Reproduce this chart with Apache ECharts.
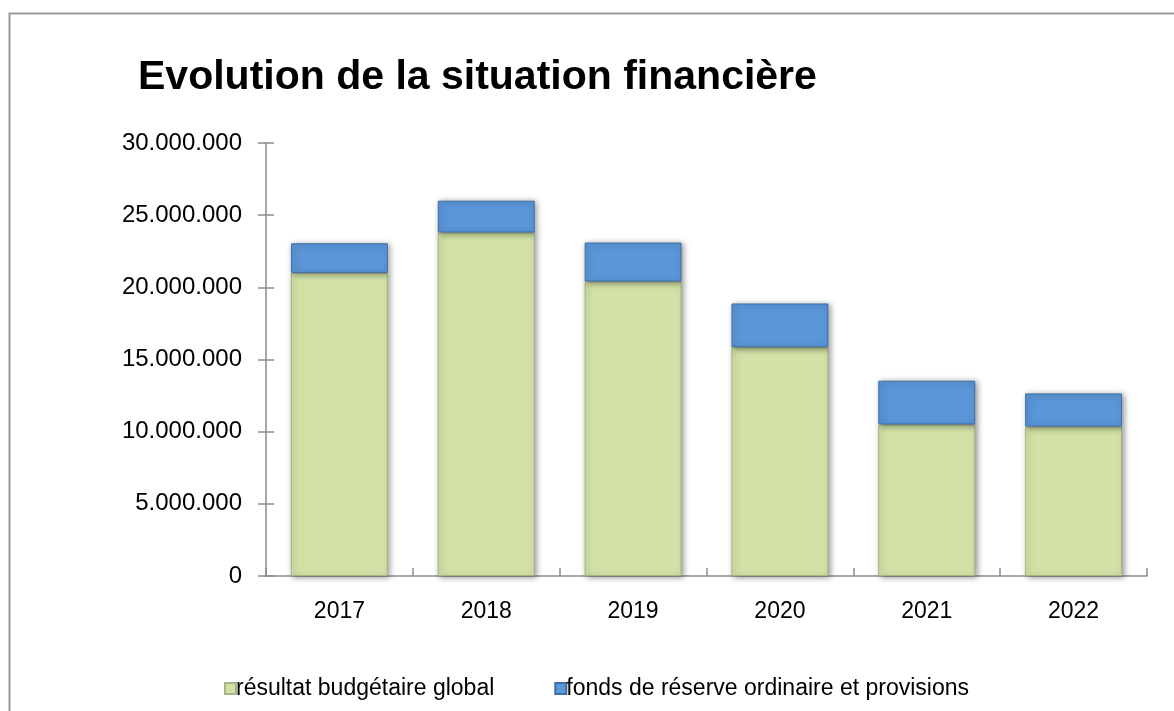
<!DOCTYPE html>
<html>
<head>
<meta charset="utf-8">
<title>Evolution de la situation financière</title>
<script src="https://cdn.jsdelivr.net/npm/echarts@6/dist/echarts.min.js"></script>
<style>
  html, body { margin: 0; padding: 0; background: #fff; }
  #chart { width: 1174px; height: 711px; }
</style>
</head>
<body>
<div id="chart"></div>
<script>
// données
const years = ['2017', '2018', '2019', '2020', '2021', '2022']
const resultatGlobal = [21000000, 23800000, 20400000, 15850000, 10500000, 10350000]
const fondsReserve = [2050000, 2200000, 2700000, 3030000, 3030000, 2300000]
const seriesNames = ['résultat budgétaire global', 'fonds de réserve ordinaire et provisions']

const fontFamily = '"Liberation Sans", Arial, sans-serif'
const axisGrey = '#8c8c8c'

// 30000000 -> 30.000.000
function fmt (v) {
  return String(v).replace(/\B(?=(\d{3})+(?!\d))/g, '.')
}

const chart = echarts.init(document.getElementById('chart'))

const yBase = {
  type: 'value',
  min: 0,
  max: 30000000,
  interval: 5000000,
  splitLine: { show: false }
}

const options = {
  animation: false,
  backgroundColor: '#fff',
  textStyle: { fontFamily: fontFamily },
  // cadre gris autour du graphique
  graphic: [{
    type: 'rect',
    left: 7,
    top: 11,
    shape: { width: 1300, height: 900 },
    style: { fill: 'none', stroke: '#9a9a9a', lineWidth: 2 },
    silent: true
  }],
  title: {
    text: 'Evolution de la situation financière',
    left: 133,
    top: 52,
    textStyle: {
      fontFamily: fontFamily,
      fontWeight: 'bold',
      fontSize: 41,
      color: '#000'
    }
  },
  grid: {
    left: 266,
    right: 27,
    top: 143,
    bottom: 135
  },
  legend: {
    left: 219,
    top: 672,
    itemWidth: 11,
    itemHeight: 11,
    itemGap: 60,
    icon: 'rect',
    textStyle: { fontSize: 23, color: '#000', fontFamily: fontFamily, padding: [0, 0, 0, -5] },
    data: seriesNames
  },
  xAxis: [{
    type: 'category',
    data: years,
    axisLine: { lineStyle: { color: axisGrey, width: 1.5 } },
    axisTick: { length: 8, lineStyle: { color: axisGrey, width: 1.5 } },
    axisLabel: { fontSize: 23, color: '#000', margin: 24 }
  }, {
    // graduations vers l'intérieur (les traits croisent l'axe)
    type: 'category',
    data: years,
    position: 'bottom',
    axisLine: { show: true, lineStyle: { opacity: 0 } },
    axisTick: { show: true, inside: true, length: 8, lineStyle: { color: axisGrey, width: 1.5 } },
    axisLabel: { show: false }
  }],
  yAxis: [Object.assign({}, yBase, {
    axisLine: { show: true, lineStyle: { color: axisGrey, width: 1.5 } },
    axisTick: { show: false },
    axisLabel: { fontSize: 24, color: '#000', margin: 24, formatter: fmt }
  }), Object.assign({}, yBase, {
    // même échelle décalée de 8 px : graduations qui croisent l'axe
    position: 'left',
    offset: -8,
    axisLine: { show: true, lineStyle: { opacity: 0 } },
    axisTick: { show: true, length: 16, lineStyle: { color: axisGrey, width: 1.5 } },
    axisLabel: { show: false }
  })],
  series: [{
    name: seriesNames[0],
    type: 'bar',
    stack: 'total',
    data: resultatGlobal,
    barWidth: '66%',
    itemStyle: {
      color: '#d2e2a7',
      borderColor: '#a7b57e',
      borderWidth: 1,
      shadowColor: 'rgba(0, 0, 0, 0.4)',
      shadowBlur: 6,
      shadowOffsetX: 2,
      shadowOffsetY: 1
    }
  }, {
    name: seriesNames[1],
    type: 'bar',
    stack: 'total',
    data: fondsReserve,
    barWidth: '66%',
    itemStyle: {
      color: '#5a96d8',
      borderColor: '#3f6ea5',
      borderWidth: 1,
      shadowColor: 'rgba(0, 0, 0, 0.4)',
      shadowBlur: 6,
      shadowOffsetX: 2,
      shadowOffsetY: 1
    }
  }]
}

chart.setOption(options)
</script>
</body>
</html>
